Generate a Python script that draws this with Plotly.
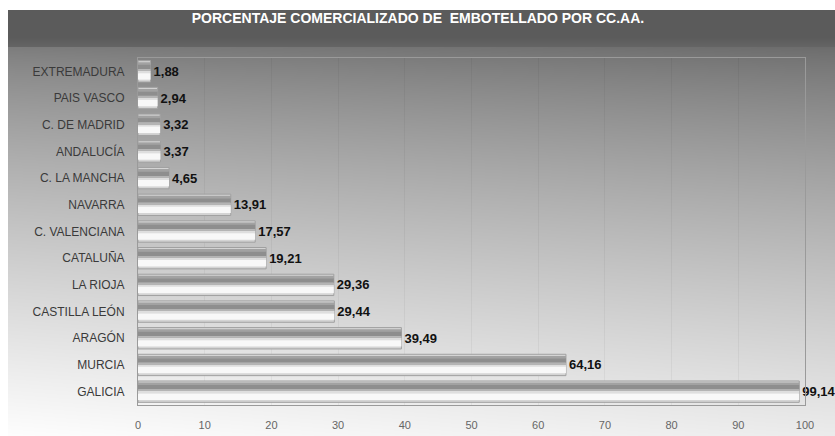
import base64
import struct
import zlib

import numpy as np
import plotly.graph_objects as go

# Percentage of bottled product commercialised, by autonomous community
regions = [
    "EXTREMADURA", "PAIS VASCO", "C. DE MADRID", "ANDALUCÍA", "C. LA MANCHA",
    "NAVARRA", "C. VALENCIANA", "CATALUÑA", "LA RIOJA", "CASTILLA LEÓN",
    "ARAGÓN", "MURCIA", "GALICIA",
]
percentages = [1.88, 2.94, 3.32, 3.37, 4.65, 13.91, 17.57, 19.21, 29.36, 29.44, 39.49, 64.16, 99.14]
x_ticks = list(range(0, 101, 10))

title_text = "PORCENTAJE COMERCIALIZADO DE  EMBOTELLADO POR CC.AA."

W, H = 835, 436
ML, MR, MT, MB = 138, 30, 58, 31
PW, PH = W - ML - MR, H - MT - MB

SANS = "Liberation Sans, Arial, sans-serif"


def gray_png(arr):
    """Encode a 2-D uint8 array as a grayscale PNG data URI."""
    h, w = arr.shape
    raw = b"".join(b"\x00" + arr[r].tobytes() for r in range(h))

    def chunk(tag, data):
        c = struct.pack(">I", len(data)) + tag + data
        return c + struct.pack(">I", zlib.crc32(tag + data) & 0xFFFFFFFF)

    png = b"\x89PNG\r\n\x1a\n"
    png += chunk(b"IHDR", struct.pack(">IIBBBBB", w, h, 8, 0, 0, 0, 0))
    png += chunk(b"IDAT", zlib.compress(raw, 9))
    png += chunk(b"IEND", b"")
    return "data:image/png;base64," + base64.b64encode(png).decode()


# Chart backdrop: dark title band, then a diagonal gray-to-white fade
yy, xx = np.mgrid[0:H, 0:W].astype(float)
s = np.clip((yy - 45) / (H - 45), 0, 1) ** 0.75
u = xx / W
top = 122 - 16 * u
bottom = 254 - 18 * u
bg = top + (bottom - top) * s
bg = np.where(yy < 47, 91 + 10 * np.clip((yy - 36) / 11, 0, 1), bg)
bg = np.where((xx < 8) | (yy < 10), 255, bg)
bg_uri = gray_png(np.clip(bg, 0, 255).astype(np.uint8))

fig = go.Figure()

# Base bar with outline and value labels
fig.add_trace(go.Bar(
    y=regions, x=percentages, orientation="h", width=0.8,
    marker=dict(color="#d4d4d4", line=dict(color="#a0a0a0", width=1)),
    texttemplate="%{x:.2f}", textposition="outside", constraintext="none",
    cliponaxis=False,
    textfont=dict(family=SANS, size=13, color="#111111", weight="bold"),
    hoverinfo="skip", showlegend=False,
))

# Shading bands that give the bars their rounded look
bands = [
    (-0.34, 0.10, "#a2a2a2"),
    (-0.25, 0.17, "#8e8e8e"),
    (-0.08, 0.09, "#b4b4b4"),
    (0.01, 0.06, "#dedede"),
    (0.07, 0.24, "#f8f8f8"),
]
for off, wid, col in bands:
    fig.add_trace(go.Bar(
        y=regions, x=percentages, orientation="h", offset=off, width=wid,
        marker=dict(color=col, line=dict(width=0)),
        hoverinfo="skip", showlegend=False,
    ))

fig.update_layout(
    width=W, height=H,
    margin=dict(l=ML, r=MR, t=MT, b=MB, pad=0, autoexpand=False),
    barmode="overlay",
    separators=",.",
    paper_bgcolor="rgba(0,0,0,0)",
    plot_bgcolor="rgba(0,0,0,0)",
    title=dict(
        text=title_text, x=418 / W, xanchor="center", y=1 - 18 / H, yanchor="middle",
        font=dict(family=SANS, size=14, color="#ffffff", weight="bold"),
    ),
    images=[dict(
        source=bg_uri, xref="paper", yref="paper",
        x=-ML / PW, y=(H - MB) / PH, sizex=W / PW, sizey=H / PH,
        xanchor="left", yanchor="top", sizing="stretch", layer="below",
    )],
    xaxis=dict(
        range=[0, 100], autorange=False, tickvals=x_ticks, ticks="", showgrid=True,
        gridcolor="rgba(0,0,0,0.045)", gridwidth=1, zeroline=False,
        showline=True, linecolor="#9a9a9a", linewidth=1, mirror=True,
        tickfont=dict(family=SANS, size=11, color="#666666"),
        ticklabelstandoff=10, automargin=False, fixedrange=True,
    ),
    yaxis=dict(
        categoryorder="array", categoryarray=regions, autorange=False,
        range=[12.5, -0.5], showgrid=False, ticks="",
        showline=True, linecolor="#9a9a9a", linewidth=1, mirror=True,
        tickfont=dict(family=SANS, size=12, color="#3a3a3a"),
        ticklabelstandoff=10, automargin=False, fixedrange=True,
    ),
)

fig.write_html("out.html")
